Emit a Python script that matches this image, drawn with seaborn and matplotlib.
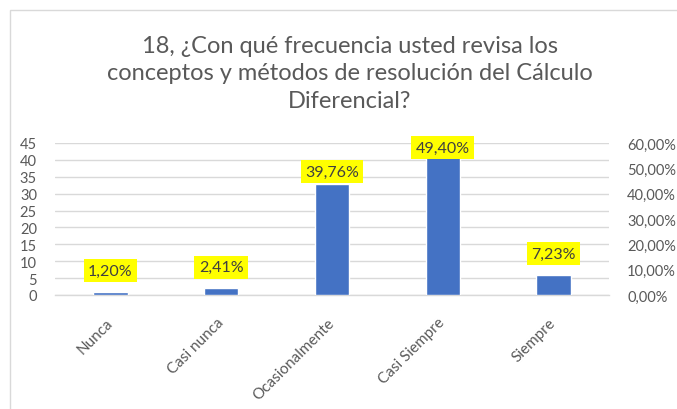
import matplotlib
matplotlib.use("Agg")
import matplotlib.pyplot as plt
import seaborn as sns
import pandas as pd
from matplotlib.patches import Rectangle
from matplotlib.ticker import FuncFormatter, MultipleLocator

# ---- data ----
categories = ["Nunca", "Casi nunca", "Ocasionalmente", "Casi Siempre", "Siempre"]
counts = [1, 2, 33, 41, 6]
percent_labels = ["1,20%", "2,41%", "39,76%", "49,40%", "7,23%"]
title = "18, ¿Con qué frecuencia usted revisa los\nconceptos y métodos de resolución del Cálculo\nDiferencial?"

# ---- style ----
sns.set_theme(style="white")
plt.rcParams["font.family"] = ["Lato", "DejaVu Sans"]
BAR = "#4472C4"
GRID = "#D9D9D9"
TXT = "#595959"
W, H = 677, 410
label_lift_px = [21, 21, 12, 9, 21]

fig = plt.figure(figsize=(W / 100, H / 100), dpi=100)
fig.patch.set_facecolor("white")
# chart border
fig.patches.append(Rectangle((10 / W, -0.1), 1.2, (H - 11) / H + 0.1, transform=fig.transFigure,
                             fill=False, edgecolor=GRID, linewidth=1.0))

left, right, top, bottom = 55, 609, 144, 296
ax = fig.add_axes([left / W, (H - bottom) / H, (right - left) / W, (bottom - top) / H])

df = pd.DataFrame({"cat": categories, "n": counts})
sns.barplot(data=df, x="cat", y="n", color=BAR, saturation=1, width=0.31, ax=ax, zorder=3)

ax.set_ylim(0, 45)
ax.yaxis.set_major_locator(MultipleLocator(5))
ax.set_xlim(-0.5, len(categories) - 0.5)
ax.grid(axis="y", color=GRID, linewidth=1.0, zorder=0)
ax.set_axisbelow(True)
for s in ["top", "left", "right"]:
    ax.spines[s].set_visible(False)
ax.spines["bottom"].set_color(GRID)
ax.spines["bottom"].set_linewidth(1.0)
ax.set_xlabel("")
ax.set_ylabel("")
ax.tick_params(axis="y", length=0, pad=13, labelsize=10.5, labelcolor=TXT)
ax.tick_params(axis="x", length=0, pad=18, labelsize=11, labelcolor=TXT)
plt.setp(ax.get_xticklabels(), rotation=45, ha="right", va="center", rotation_mode="anchor")

ax2 = ax.twinx()
ax2.set_ylim(0, 0.6)
ax2.yaxis.set_major_locator(MultipleLocator(0.1))
ax2.yaxis.set_major_formatter(FuncFormatter(lambda v, p: f"{v*100:.2f}%".replace(".", ",")))
ax2.tick_params(axis="y", length=0, pad=13, labelsize=10.5, labelcolor=TXT)
for s in ax2.spines.values():
    s.set_visible(False)

for i, (v, lab) in enumerate(zip(counts, percent_labels)):
    ax.annotate(lab, xy=(i, v), xytext=(0, label_lift_px[i]), textcoords="offset pixels",
                ha="center", va="center", fontsize=11.5, color="#404040", zorder=5,
                bbox=dict(boxstyle="square,pad=0.28", facecolor="#FFFF00", edgecolor="none"))

fig.text(350 / W, 1 - 74 / H, title, ha="center", va="center", fontsize=17, color=TXT,
         linespacing=1.36)

fig.savefig("out.png", dpi=100)
